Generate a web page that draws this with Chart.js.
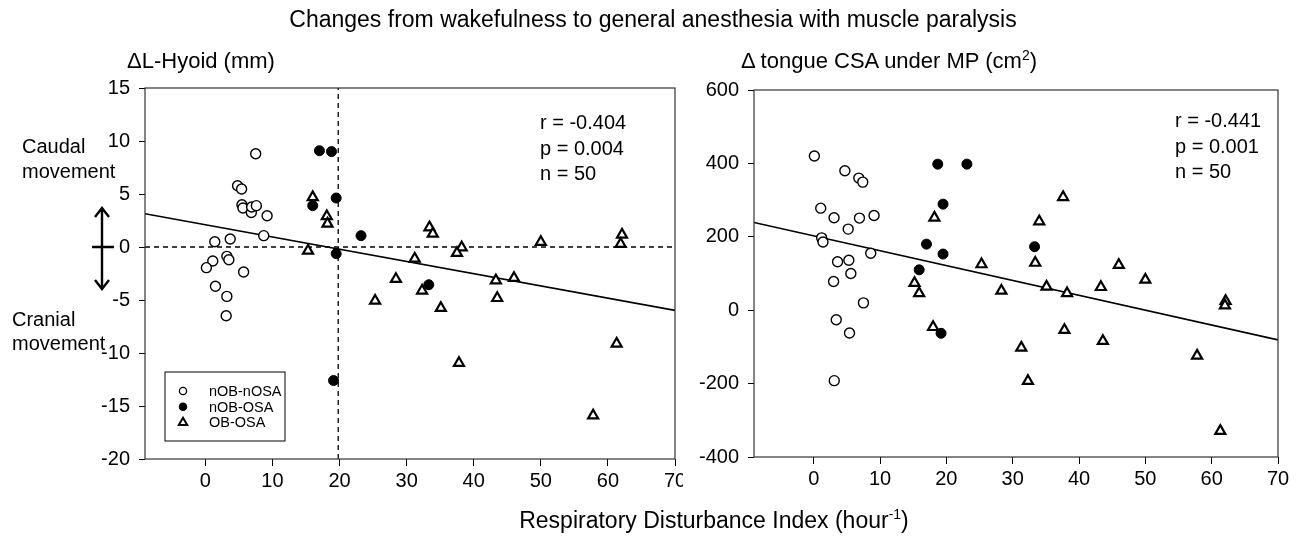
<!DOCTYPE html>
<html>
<head>
<meta charset="utf-8">
<script src="https://cdn.jsdelivr.net/npm/chart.js@4/dist/chart.umd.min.js"></script>
<style>
  body { margin: 0; background: #fff; }
  #wrap { position: relative; width: 1302px; height: 536px; overflow: hidden; font-family: "Liberation Sans", Arial, sans-serif; color: #000; }
  .txt { position: absolute; font-size: 20px; line-height: 20px; white-space: nowrap; }
  canvas { position: absolute; top: 0; }
  sup { font-size: 14px; line-height: 0; }
</style>
</head>
<body>
<div id="wrap">
  <canvas id="left" width="683" height="536" style="left:0px"></canvas>
  <canvas id="right" width="612" height="536" style="left:690px"></canvas>
  <div class="txt" style="left:0;width:1306px;text-align:center;top:8px;font-size:23px;line-height:23px">Changes from wakefulness to general anesthesia with muscle paralysis</div>
  <div class="txt" style="left:127px;top:50px;font-size:22px;line-height:22px">ΔL-Hyoid (mm)</div>
  <div class="txt" style="left:741px;top:50px;font-size:22px;line-height:22px">Δ tongue CSA under MP (cm<sup>2</sup>)</div>
  <div class="txt" style="left:540px;top:110px;line-height:25.5px">r = -0.404<br>p = 0.004<br>n = 50</div>
  <div class="txt" style="left:1175px;top:108px;line-height:25.5px">r = -0.441<br>p = 0.001<br>n = 50</div>
  <div class="txt" style="left:22px;top:134px;line-height:25px">Caudal<br>movement</div>
  <div class="txt" style="left:12px;top:307px;line-height:24px">Cranial<br>movement</div>
  <div class="txt" style="left:0;width:1428px;text-align:center;top:509px;font-size:23px;line-height:23px">Respiratory Disturbance Index (hour<sup>-1</sup>)</div>
</div>
<script>
// eje x comun
const xTicks = [0, 10, 20, 30, 40, 50, 60, 70]
const hyoidTicks = [-20, -15, -10, -5, 0, 5, 10, 15]
const csaTicks = [-400, -200, 0, 200, 400, 600]
const groups = ['nOB-nOSA', 'nOB-OSA', 'OB-OSA']

// panel izquierdo: ΔL-Hyoid
const hyoidNonX = [7.5, 4.8, 5.4, 5.45, 5.6, 6.85, 6.9, 7.6, 9.2, 8.7, 1.4, 3.7, 3.2, 3.5, 1.1, 0.15, 5.7, 1.5, 3.2, 3.1]
const hyoidNonY = [8.8, 5.78, 5.47, 3.99, 3.68, 3.26, 3.77, 3.9, 2.95, 1.07, 0.5, 0.75, -0.88, -1.2, -1.32, -1.95, -2.36, -3.7, -4.66, -6.48]
const hyoidOsaX = [17.0, 18.8, 19.5, 16.0, 23.2, 19.5, 19.1, 33.3]
const hyoidOsaY = [9.08, 9.0, 4.62, 3.9, 1.07, -0.63, -12.6, -3.56]
const hyoidObX = [16.0, 18.1, 18.2, 15.3, 33.4, 33.9, 38.2, 37.5, 50.0, 62.1, 61.9, 31.2, 43.3, 46.0, 32.3, 43.5, 35.1, 37.8, 61.3, 57.8, 28.4, 25.3]
const hyoidObY = [4.7, 2.9, 2.2, -0.35, 1.85, 1.25, -0.04, -0.57, 0.47, 1.16, 0.28, -1.1, -3.15, -2.93, -4.12, -4.82, -5.76, -10.95, -9.12, -15.9, -3.02, -5.07]
const hyoidFitX = [-9, 70]
const hyoidFitY = [3.14, -5.98]
const hyoidCutX = 19.8

// panel derecho: Δ tongue CSA
const csaNonX = [0.1, 4.7, 6.8, 7.4, 1.06, 3.07, 6.9, 9.1, 5.2, 1.2, 1.4, 8.6, 3.6, 5.3, 5.6, 3.0, 7.5, 3.4, 5.4, 3.1]
const csaNonY = [420, 380, 360, 349, 278, 252, 251, 258, 221, 197, 186, 155, 132, 136, 100, 78, 20, -26, -62, -192]
const csaOsaX = [18.7, 23.1, 19.5, 17.0, 19.5, 15.9, 19.2, 33.3]
const csaOsaY = [398, 398, 289, 180, 153, 110, -63, 173]
const csaObX = [18.2, 25.3, 15.2, 15.9, 18.0, 37.6, 34.0, 33.4, 46.0, 28.3, 35.1, 38.2, 43.3, 50.0, 62.1, 62.0, 37.8, 43.6, 31.3, 57.8, 32.3, 61.3]
const csaObY = [252, 125, 74, 46, -46, 308, 242, 129, 123, 53, 64, 46, 63, 83, 25, 13, -54, -84, -102, -124, -193, -329]
const csaFitX = [-9, 70]
const csaFitY = [239, -81]

const FONT = '"Liberation Sans", Arial, sans-serif'

function pts(xs, ys) { // juntamos x e y
  return xs.map((x, i) => ({ x: x, y: ys[i] }))
}

function groupSets(nx, ny, ox, oy, tx, ty) {
  return [
    { label: groups[0], data: pts(nx, ny), pointStyle: 'circle', pointRadius: 5, pointBorderWidth: 1.4, pointBackgroundColor: '#fff', pointBorderColor: '#000', order: 0 },
    { label: groups[1], data: pts(ox, oy), pointStyle: 'circle', pointRadius: 5, pointBorderWidth: 1, pointBackgroundColor: '#000', pointBorderColor: '#000', order: 0 },
    { label: groups[2], data: pts(tx, ty), pointStyle: 'triangle', pointRadius: 5.8, pointBorderWidth: 2.2, pointBackgroundColor: '#fff', pointBorderColor: '#000', order: 0 }
  ]
}

function lineSet(xs, ys, dash) {
  return { label: '', data: pts(xs, ys), showLine: true, pointRadius: 0, borderColor: '#000', borderWidth: dash ? 1.3 : 1.6, borderDash: dash ? [5, 4] : [], order: 10 }
}

// marco + leyenda + flecha
const decor = {
  id: 'decor',
  afterDraw(chart, args, opts) {
    const c = chart.ctx
    const a = chart.chartArea
    c.save()
    c.strokeStyle = '#333'
    c.lineWidth = 1.2
    c.strokeRect(a.left, a.top, a.right - a.left, a.bottom - a.top)
    if (opts.legend) {
      const bx = a.left + 20, by = a.bottom - 87
      c.strokeStyle = '#000'
      c.lineWidth = 1
      c.strokeRect(bx, by, 120, 69)
      c.font = '14.5px ' + FONT
      c.fillStyle = '#000'
      c.textBaseline = 'middle'
      for (let i = 0; i < 3; i++) {
        const yy = by + 19 + i * 15.7, xx = bx + 18
        c.beginPath()
        c.lineWidth = i == 2 ? 2 : 1.3
        if (i < 2) {
          c.arc(xx, yy, 3.6, 0, Math.PI * 2)
          c.fillStyle = i == 0 ? '#fff' : '#000'
          c.fill()
          c.stroke()
        } else {
          c.moveTo(xx, yy - 4.6); c.lineTo(xx + 4.2, yy + 2.6); c.lineTo(xx - 4.2, yy + 2.6); c.closePath()
          c.fillStyle = '#fff'
          c.fill()
          c.stroke()
        }
        c.fillStyle = '#000'
        c.fillText(groups[i], bx + 44, yy + 1)
      }
    }
    if (opts.arrow) {
      const y0 = chart.scales.y.getPixelForValue(0)
      const ax = 102
      c.strokeStyle = '#000'
      c.lineWidth = 2.4
      c.beginPath()
      c.moveTo(ax, y0 - 39); c.lineTo(ax, y0 + 42)
      c.moveTo(ax - 7, y0 - 30); c.lineTo(ax, y0 - 39); c.lineTo(ax + 7, y0 - 30)
      c.moveTo(ax - 7, y0 + 33); c.lineTo(ax, y0 + 42); c.lineTo(ax + 7, y0 + 33)
      c.moveTo(ax - 10, y0); c.lineTo(ax + 12, y0)
      c.stroke()
    }
    c.restore()
  }
}

function makeChart(id, sets, yTicks, yMin, yMax, box, extra) {
  return new Chart(document.getElementById(id), {
    type: 'scatter',
    data: { datasets: sets },
    options: {
      responsive: false,
      animation: false,
      layout: { padding: { top: box.top, right: box.right, left: 0, bottom: 0 } },
      plugins: { legend: { display: false }, tooltip: { enabled: false }, decor: extra },
      scales: {
        x: {
          type: 'linear', min: -9, max: 70,
          afterBuildTicks: s => { s.ticks = xTicks.map(v => ({ value: v })) },
          afterFit: s => { s.height = box.bottom; s.paddingLeft = 0; s.paddingRight = 0 },
          grid: { drawOnChartArea: false, drawTicks: true, tickLength: 7, color: '#000' },
          border: { display: false },
          ticks: { color: '#000', padding: 3, maxRotation: 0, font: { family: FONT, size: 20 } }
        },
        y: {
          type: 'linear', min: yMin, max: yMax,
          afterBuildTicks: s => { s.ticks = yTicks.map(v => ({ value: v })) },
          afterFit: s => { s.width = box.left; s.paddingTop = 0; s.paddingBottom = 0 },
          grid: { drawOnChartArea: false, drawTicks: true, tickLength: 6, color: '#000' },
          border: { display: false },
          ticks: { color: '#000', padding: 9, font: { family: FONT, size: 20 } }
        }
      }
    },
    plugins: [decor]
  })
}

makeChart('left',
  groupSets(hyoidNonX, hyoidNonY, hyoidOsaX, hyoidOsaY, hyoidObX, hyoidObY).concat([
    lineSet(hyoidFitX, hyoidFitY, false),
    lineSet(hyoidFitX, [0, 0], true),
    lineSet([hyoidCutX, hyoidCutX], [-20, 15], true)
  ]),
  hyoidTicks, -20, 15, { top: 88, right: 7, bottom: 77, left: 145 }, { legend: true, arrow: true })

makeChart('right',
  groupSets(csaNonX, csaNonY, csaOsaX, csaOsaY, csaObX, csaObY).concat([
    lineSet(csaFitX, csaFitY, false)
  ]),
  csaTicks, -400, 600, { top: 90, right: 24, bottom: 79, left: 64 }, { legend: false, arrow: false })
</script>
</body>
</html>
